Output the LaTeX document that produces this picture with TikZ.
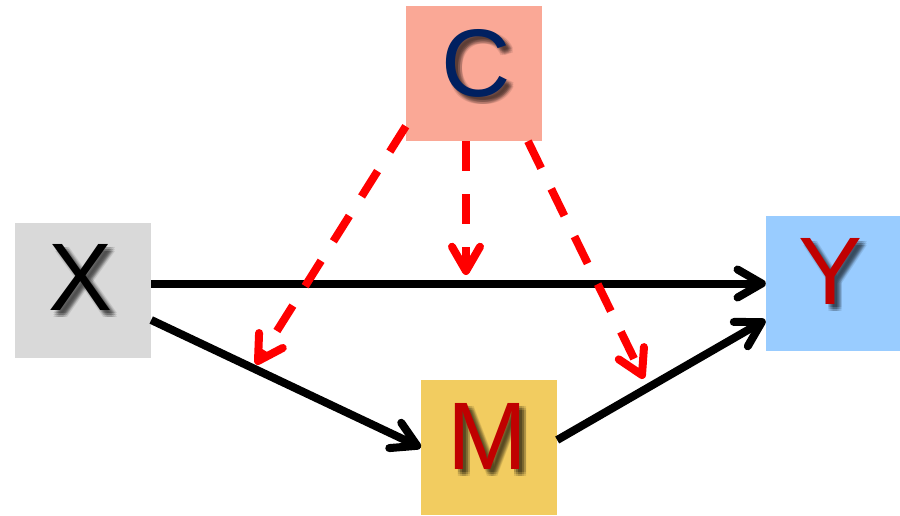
\documentclass[tikz,border=0pt]{standalone}
\usepackage{fontspec}
\setmainfont{Liberation Sans}
\usetikzlibrary{calc}
\definecolor{cfill}{RGB}{250,168,150}
\definecolor{xfill}{RGB}{217,217,217}
\definecolor{yfill}{RGB}{153,204,255}
\definecolor{mfill}{RGB}{242,204,96}
\definecolor{ctext}{RGB}{0,32,96}
\definecolor{rtext}{RGB}{192,0,0}
\tikzset{
  varbox/.style={minimum width=136pt, minimum height=135pt, inner sep=0pt, draw=none},
  lettertext/.style={font=\fontsize{96}{96}\selectfont, inner sep=0pt},
  shadowtext/.style={font=\fontsize{96}{96}\selectfont, inner sep=0pt, text=black, text opacity=0.10},
  solidline/.style={line width=8pt, draw=black, shorten >=6pt},
  dashline/.style={line width=8pt, draw=red, dash pattern=on 30pt off 23pt, shorten >=6pt},
  vhead/.style={line width=8pt, line cap=round, line join=round}
}
\newcommand{\shadowletter}[3]{%
  \foreach \dx in {3,5,7}{\foreach \dy in {3,5,7}{
    \node[shadowtext] at ([xshift=\dx pt, yshift=-\dy pt]#1) {#2};}}
  \node[lettertext, text=#3] at (#1) {#2};}
\newcommand{\vtip}[3]{%
  \draw[vhead, draw=#3] ($(#2)!28pt!30:(#1)$) -- (#2) -- ($(#2)!28pt!-30:(#1)$);}
\begin{document}
\begin{tikzpicture}[x=1pt, y=-1pt]
\useasboundingbox (0,0) rectangle (900,515);
\node[varbox, fill=cfill] (C) at (474,73.5) {};
\node[varbox, fill=xfill] (X) at (83,290.5) {};
\node[varbox, fill=yfill, minimum width=134pt] (Y) at (833,283.5) {};
\node[varbox, fill=mfill] (M) at (489,447.5) {};
\coordinate (cl) at (476,63);
\coordinate (xl) at (81,277);
\coordinate (yl) at (831,271);
\coordinate (ml) at (487,436);
\shadowletter{cl}{C}{ctext}
\shadowletter{xl}{X}{black}
\shadowletter{yl}{Y}{rtext}
\shadowletter{ml}{M}{rtext}
% solid arrows
\coordinate (a1) at (X.east |- Y.west);
\coordinate (b1) at ([xshift=-4pt]Y.west);
\coordinate (a2) at ([yshift=-29.5pt]X.east);
\coordinate (b2) at ($(M.west)!4pt!(a2)$);
\coordinate (a3) at ([yshift=7.5pt]M.east);
\coordinate (b3) at ([xshift=-4pt, yshift=-38.5pt]Y.west);
\draw[solidline] (a1) -- (b1); \vtip{a1}{b1}{black}
\draw[solidline] (a2) -- (b2); \vtip{a2}{b2}{black}
\draw[solidline] (a3) -- (b3); \vtip{a3}{b3}{black}
% dashed arrows
\coordinate (s1) at ([yshift=15pt]C.south west);
\coordinate (s2) at ([xshift=-8pt]C.south);
\coordinate (s3) at ([xshift=54pt]C.south);
\coordinate (t1) at (258,361);
\coordinate (t2) at (466,271);
\coordinate (t3) at (642,375);
\draw[dashline] (s1) -- (t1); \vtip{s1}{t1}{red}
\draw[dashline] (s2) -- (t2); \vtip{s2}{t2}{red}
\draw[dashline] (s3) -- (t3); \vtip{s3}{t3}{red}
\end{tikzpicture}
\end{document}
